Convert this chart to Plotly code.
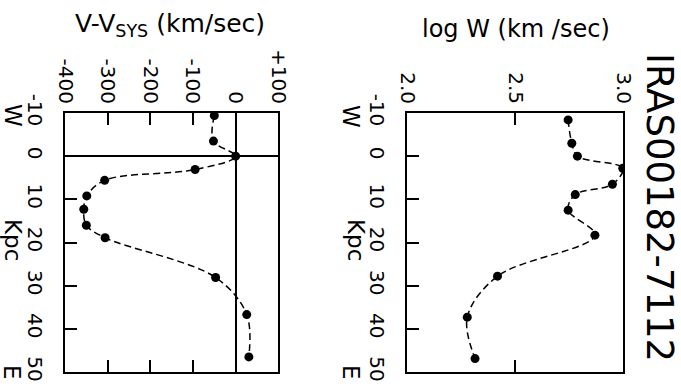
import plotly.graph_objects as go

# Velocity offset along the slit
kpc_vel = [-9.4, -3.5, 0.0, 3.1, 5.6, 9.2, 12.3, 16.0, 18.9, 28.1, 36.7, 46.5]
vel = [-50, -52, 0, -95, -307, -349, -356, -350, -306, -47, 26, 31]

# Line width (log) along the slit
kpc_w = [-8.4, -3.0, 0.0, 2.8, 6.5, 8.9, 12.5, 18.3, 27.8, 37.3, 46.9]
logw = [2.746, 2.763, 2.789, 2.999, 2.951, 2.779, 2.746, 2.870, 2.419, 2.279, 2.315]

kpc_ticks = [-10, 0, 10, 20, 30, 40, 50]
kpc_ticktext = ["-10", "0", "10", "20", "30", "40", "50"]
vel_ticks = [-400, -300, -200, -100, 0, 100]
vel_ticktext = ["-400", "-300", "-200", "-100", "0", "+100"]
logw_ticks = [2.0, 2.5, 3.0]
logw_ticktext = ["2.0", "2.5", "3.0"]

W, H = 681, 388
FONT = "DejaVu Sans"

fig = go.Figure()

line_style = dict(color="black", width=1.5, dash="7px,4px", shape="spline", smoothing=1.0)
marker_style = dict(color="black", size=9)

fig.add_trace(go.Scatter(x=vel, y=kpc_vel, mode="lines+markers", line=line_style,
                         marker=marker_style, xaxis="x", yaxis="y", showlegend=False))
fig.add_trace(go.Scatter(x=logw, y=kpc_w, mode="lines+markers", line=line_style,
                         marker=marker_style, xaxis="x2", yaxis="y2", showlegend=False))

def px_x(p):
    return p / W

def px_y(p):
    return 1 - p / H

ydom = [px_y(372), px_y(113)]
tickfont = dict(family=FONT, size=20, color="black")

common_x = dict(side="top", ticks="inside", ticklen=12, tickwidth=1.5, tickcolor="black",
                showline=True, linecolor="black", linewidth=2, mirror="ticks",
                showgrid=False, tickangle=90, tickfont=tickfont, ticklabelstandoff=0,
                automargin=False)
common_y = dict(ticks="inside", ticklen=12, tickwidth=1.5, tickcolor="black",
                showline=True, linecolor="black", linewidth=2, mirror=True,
                showgrid=False, tickangle=90, tickfont=tickfont, range=[50, -10],
                tickvals=kpc_ticks, ticktext=kpc_ticktext, ticklabelstandoff=11,
                automargin=False)

fig.update_layout(
    width=W, height=H,
    margin=dict(l=0, r=0, t=0, b=0),
    paper_bgcolor="white", plot_bgcolor="white",
    xaxis=dict(domain=[px_x(65), px_x(278.3)], range=[-400, 100], anchor="y",
               tickvals=vel_ticks, ticktext=vel_ticktext,
               zeroline=True, zerolinecolor="black", zerolinewidth=2, **common_x),
    yaxis=dict(domain=ydom, anchor="x", zeroline=True, zerolinecolor="black",
               zerolinewidth=2, **common_y),
    xaxis2=dict(domain=[px_x(407), px_x(623)], range=[2.0, 3.0], anchor="y2",
                tickvals=logw_ticks, ticktext=logw_ticktext, zeroline=False, **common_x),
    yaxis2=dict(domain=ydom, anchor="x2", zeroline=False, **common_y),
)

def note(text, x, y, size, angle=0):
    fig.add_annotation(text=text, x=px_x(x), y=px_y(y), xref="paper", yref="paper",
                       showarrow=False, textangle=angle, xanchor="center", yanchor="middle",
                       font=dict(family=FONT, size=size, color="black"))

note("V-V<sub>SYS</sub> (km/sec)", 170, 25, 25)
note("log W (km /sec)", 516, 29, 24)
note("IRAS00182-7112", 660, 207, 37, 90)

for xc in (13, 356):
    note("Kpc", xc, 240, 23, 90)
note("W", 13, 115, 23, 90)
note("E", 12, 372, 23, 90)
note("W", 351, 116, 23, 90)
note("E", 351, 372, 23, 90)

fig.write_html("out.html")
